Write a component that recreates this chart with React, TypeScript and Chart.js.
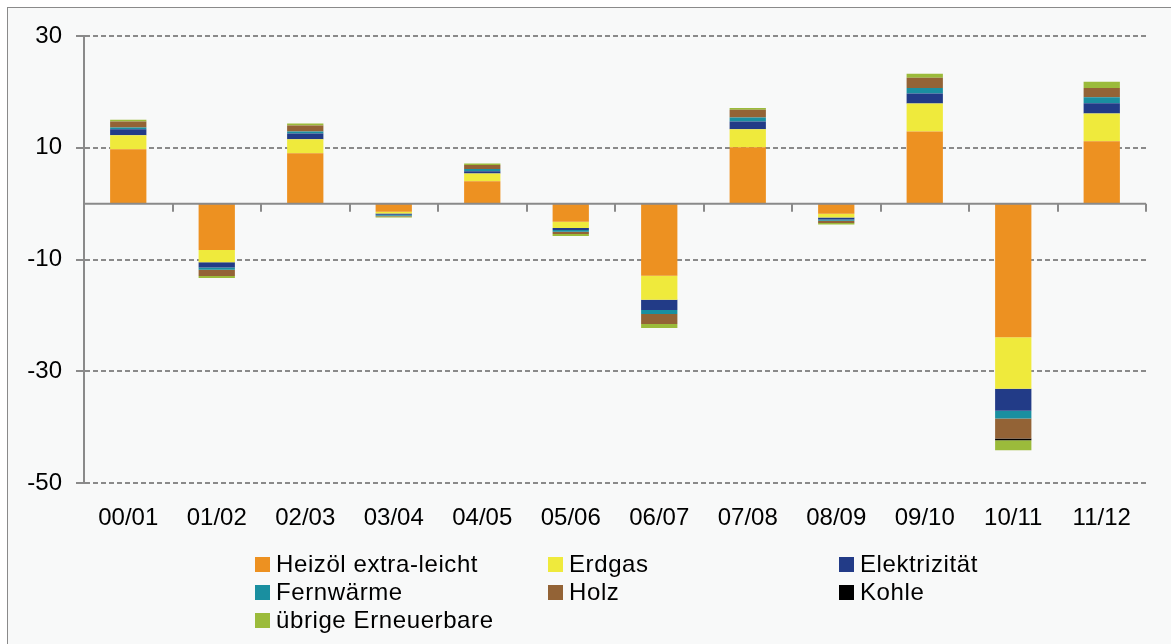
import React, { useEffect, useRef } from "react";
import { Chart, registerables } from "chart.js";

Chart.register(...registerables);

const categories = ["00/01", "01/02", "02/03", "03/04", "04/05", "05/06", "06/07", "07/08", "08/09", "09/10", "10/11", "11/12"];
const heizoel = [9.75, -8.3, 9.0, -1.45, 4.0, -3.25, -12.9, 10.1, -1.8, 12.9, -23.9, 11.15];
const erdgas = [2.5, -2.2, 2.5, -0.3, 1.4, -1.1, -4.3, 3.2, -0.7, 5.0, -9.25, 5.0];
const elektrizitaet = [1.07, -0.95, 1.07, -0.25, 0.4, -0.35, -1.85, 1.42, -0.35, 1.8, -3.9, 1.8];
const fernwaerme = [0.3, -0.4, 0.35, -0.15, 0.4, -0.35, -0.7, 0.7, -0.2, 1.0, -1.4, 1.1];
const holz = [1.07, -1.1, 1.07, -0.15, 0.7, -0.4, -1.8, 1.4, -0.4, 1.85, -3.6, 1.65];
const kohle = [0, 0, 0, 0, 0, 0, 0, 0, 0, 0, -0.3, 0];
const uebrige = [0.3, -0.35, 0.35, -0.2, 0.3, -0.35, -0.7, 0.3, -0.3, 0.7, -1.8, 1.1];

const seriesNames = ["Heizöl extra-leicht", "Erdgas", "Elektrizität", "Fernwärme", "Holz", "Kohle", "übrige Erneuerbare"];
const seriesData = [heizoel, erdgas, elektrizitaet, fernwaerme, holz, kohle, uebrige];
const seriesColors = ["#ED9121", "#EFEA3C", "#223B87", "#1A8FA0", "#936336", "#000000", "#9BBB3B"];

const yMin = -50;
const yMax = 30;
const yStep = 20;

const FONT = "'Liberation Sans', Arial, sans-serif";
const W = 1171;
const H = 644;

const bgPlugin = {
  id: "bgBorder",
  beforeDraw(chart: any) {
    const ctx = chart.ctx;
    ctx.save();
    ctx.fillStyle = "#ffffff";
    ctx.fillRect(0, 0, chart.width, chart.height);
    ctx.fillStyle = "#f8f9f9";
    ctx.fillRect(7, 7, chart.width, chart.height);
    ctx.strokeStyle = "#8a8a8a";
    ctx.lineWidth = 1;
    ctx.strokeRect(7.5, 7.5, chart.width + 10, chart.height + 10);
    ctx.restore();
  },
};

const zeroLinePlugin = {
  id: "zeroLine",
  afterDatasetsDraw(chart: any) {
    const { ctx, chartArea, scales } = chart;
    const y0 = scales.y.getPixelForValue(0);
    ctx.save();
    ctx.strokeStyle = "#8a8a8a";
    ctx.lineWidth = 2;
    ctx.setLineDash([]);
    ctx.beginPath();
    ctx.moveTo(chartArea.left, y0);
    ctx.lineTo(chartArea.right, y0);
    ctx.stroke();
    const n = categories.length;
    const cw = (chartArea.right - chartArea.left) / n;
    ctx.beginPath();
    for (let i = 1; i <= n; i++) {
      const x = Math.round(chartArea.left + i * cw);
      ctx.moveTo(x, y0);
      ctx.lineTo(x, y0 + 8);
    }
    ctx.stroke();
    ctx.restore();
  },
};

export default function App() {
  const ref = useRef<HTMLCanvasElement | null>(null);

  useEffect(() => {
    if (!ref.current) return;
    const chart = new Chart(ref.current, {
      type: "bar",
      data: {
        labels: categories,
        datasets: seriesNames.map((name, i) => ({
          label: name,
          data: seriesData[i],
          backgroundColor: seriesColors[i],
          borderWidth: 0,
          barPercentage: 0.41,
          categoryPercentage: 1,
        })),
      },
      options: {
        responsive: false,
        animation: false,
        devicePixelRatio: 1,
        layout: { padding: { top: 36, right: 25, left: 0, bottom: 0 } },
        plugins: {
          legend: { display: false },
          tooltip: { enabled: false },
        },
        scales: {
          x: {
            stacked: true,
            grid: { display: false, drawTicks: false },
            border: { display: false },
            ticks: {
              color: "#000",
              padding: 21,
              font: { family: FONT, size: 24 },
              maxRotation: 0,
            },
            afterFit: (s: any) => {
              s.height = 161;
            },
          },
          y: {
            stacked: true,
            min: yMin,
            max: yMax,
            ticks: {
              stepSize: yStep,
              color: "#000",
              padding: 14,
              font: { family: FONT, size: 24 },
            },
            grid: {
              color: "#8a8a8a",
              lineWidth: 2,
              tickLength: 8,
              tickBorderDash: [],
            },
            border: { display: true, color: "#8a8a8a", width: 2, dash: [5, 3] },
            afterFit: (s: any) => {
              s.width = 84;
            },
          },
        },
      },
      plugins: [bgPlugin, zeroLinePlugin],
    });
    return () => chart.destroy();
  }, []);

  const colX = [255, 548, 839];
  const rowY = [564, 592, 620];

  return (
    <div style={{ position: "fixed", left: 0, top: 0, width: W, height: H, overflow: "hidden" }}>
      <canvas ref={ref} width={W} height={H} style={{ position: "absolute", left: 0, top: 0, width: W, height: H }} />
      {seriesNames.map((name, i) => {
        const col = i % 3;
        const row = Math.floor(i / 3);
        return (
          <div
            key={name}
            style={{
              position: "absolute",
              left: colX[col],
              top: rowY[row] - 14,
              height: 28,
              display: "flex",
              alignItems: "center",
              fontFamily: FONT,
              fontSize: 24,
              letterSpacing: "0.6px",
              color: "#000",
              whiteSpace: "nowrap",
            }}
          >
            <span style={{ display: "inline-block", width: 15, height: 15, background: seriesColors[i], marginRight: 6 }} />
            <span>{name}</span>
          </div>
        );
      })}
    </div>
  );
}
